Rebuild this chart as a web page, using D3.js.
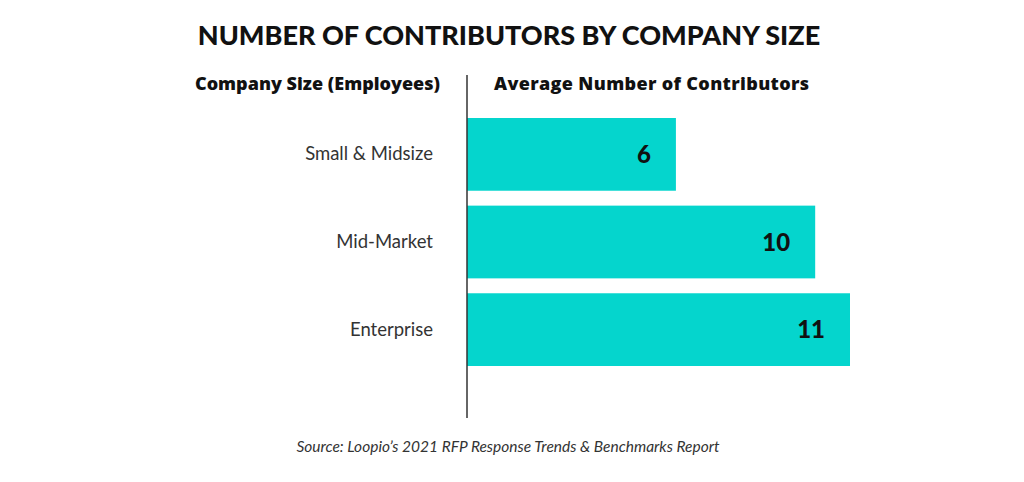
<!DOCTYPE html>
<html>
<head>
<meta charset="utf-8">
<script src="https://cdn.jsdelivr.net/npm/d3@7"></script>
<style>
  body { margin: 0; background: #fff; }
  text { font-family: Lato, "Open Sans", sans-serif; }
</style>
</head>
<body>
<script>
// chart data
var categories = ["Small & Midsize", "Mid-Market", "Enterprise"];
var contributors = [6, 10, 11];
var titleText = "NUMBER OF CONTRIBUTORS BY COMPANY SIZE";
var leftHeader = "Company Size (Employees)";
var rightHeader = "Average Number of Contributors";
var sourceText = "Source: Loopio\u2019s 2021 RFP Response Trends & Benchmarks Report";

var width = 1024, height = 482;

var svg = d3.select("body").append("svg")
  .attr("width", width)
  .attr("height", height);

// scales
var x = d3.scaleLinear().domain([0, 11]).range([467, 850]);
var y = d3.scaleBand().domain(categories).range([118, 366]).paddingInner(0.17).paddingOuter(0);

// title
svg.append("text")
  .attr("x", 509).attr("y", 45)
  .attr("text-anchor", "middle")
  .style("font-size", "27px").style("font-weight", 900)
  .style("fill", "#111")
  .text(titleText);

// column headers
svg.append("text")
  .attr("x", 440).attr("y", 90)
  .attr("text-anchor", "end")
  .style("font-family", "'Open Sans', sans-serif")
  .style("font-size", "18px").style("font-weight", 800)
  .style("fill", "#111")
  .text(leftHeader);

svg.append("text")
  .attr("x", 494).attr("y", 90)
  .attr("text-anchor", "start")
  .style("font-family", "'Open Sans', sans-serif")
  .style("font-size", "18px").style("font-weight", 800)
  .style("letter-spacing", "0.35px")
  .style("fill", "#111")
  .text(rightHeader);

// bars
svg.selectAll("rect.bar")
  .data(contributors)
  .enter().append("rect")
  .attr("class", "bar")
  .attr("x", x(0))
  .attr("y", function(d, i) { return y(categories[i]); })
  .attr("width", function(d) { return x(d) - x(0); })
  .attr("height", y.bandwidth())
  .style("fill", "#05d5cd");

// value labels
svg.selectAll("text.val")
  .data(contributors)
  .enter().append("text")
  .attr("class", "val")
  .attr("x", function(d) { return x(d) - 25; })
  .attr("y", function(d, i) { return y(categories[i]) + y.bandwidth() / 2; })
  .attr("dy", "0.36em")
  .attr("text-anchor", "end")
  .style("font-size", "24px").style("font-weight", 900)
  .style("fill", "#111")
  .text(function(d) { return d; });

// category axis
var yAxis = d3.axisLeft(y).tickSize(0).tickPadding(34);
var g = svg.append("g")
  .attr("transform", "translate(" + x(0) + ",0)")
  .call(yAxis);
g.select(".domain").remove();
g.selectAll("text")
  .style("font-family", "Lato, sans-serif")
  .style("font-size", "18.5px")
  .style("fill", "#333");

// vertical divider
svg.append("line")
  .attr("x1", x(0)).attr("x2", x(0))
  .attr("y1", 75).attr("y2", 418)
  .style("stroke", "#333").style("stroke-width", 1.5);

// source
svg.append("text")
  .attr("x", 508).attr("y", 452)
  .attr("text-anchor", "middle")
  .style("font-size", "15.5px").style("font-style", "italic")
  .style("fill", "#333")
  .text(sourceText);
</script>
</body>
</html>
